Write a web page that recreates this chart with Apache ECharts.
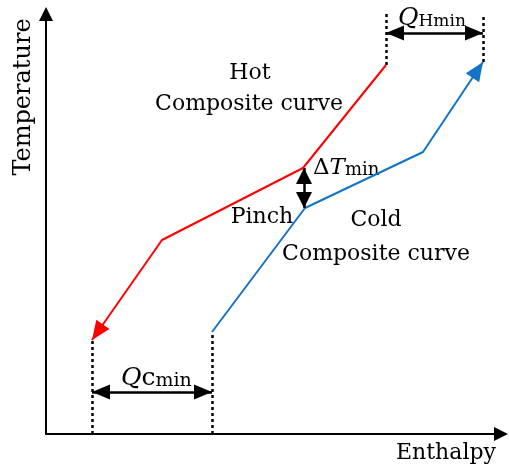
<!DOCTYPE html>
<html><head><meta charset="utf-8">
<script src="https://cdn.jsdelivr.net/npm/echarts@6/dist/echarts.min.js"></script>
<style>html,body{margin:0;padding:0;background:#fff}#c{width:509px;height:467px}</style>
</head><body><div id="c"></div>
<script>
// Hot composite curve: enthalpy / temperature points (hot end -> cold end)
const hotH = [340, 257, 116, 46];
const hotT = [369, 266, 194, 94];
// Cold composite curve: enthalpy / temperature points (cold end -> hot end)
const coldH = [166, 259, 377, 437];
const coldT = [102, 226, 282, 372];
// Guide levels
const qcArrowT = 42;     // temperature level of the Qc,min arrow
const qhArrowT = 401;    // temperature level of the QH,min arrow
const qhGuideTop = 420;  // top of the QH,min dotted guides
const pinchH = 258;      // enthalpy of the ΔTmin arrow
const axisMaxH = 455, axisMaxT = 420;

const FONT = '"DejaVu Serif", serif';
const red = '#ff0000', blue = '#1273c7', black = '#000';

function pts(xs, ys){ return xs.map((x,i)=>[x, ys[i]]); }
const hotPts = pts(hotH, hotT), coldPts = pts(coldH, coldT);

// arrow heads: [tipH, tipT, fromH, fromT]
const heads = [
  {value:[hotH[3], hotT[3], hotH[2], hotT[2]], color:red, len:19, hw:8},
  {value:[coldH[3], coldT[3], coldH[2], coldT[2]], color:blue, len:19, hw:8},
  {value:[hotH[3], qcArrowT, coldH[0], qcArrowT], color:black, len:18, hw:7.5},
  {value:[coldH[0], qcArrowT, hotH[3], qcArrowT], color:black, len:18, hw:7.5},
  {value:[hotH[0], qhArrowT, coldH[3], qhArrowT], color:black, len:18, hw:7.5},
  {value:[coldH[3], qhArrowT, hotH[0], qhArrowT], color:black, len:18, hw:7.5},
  {value:[pinchH, hotT[1], pinchH, coldT[1]], color:black, len:16, hw:8},
  {value:[pinchH, coldT[1], pinchH, hotT[1]], color:black, len:16, hw:8}
];

const chart = echarts.init(document.getElementById('c'), null, {renderer:'canvas'});
const option = {
  animation:false,
  backgroundColor:'#fff',
  grid:{left:46, right:8, top:14, bottom:33},
  xAxis:{type:'value', min:0, max:axisMaxH, axisTick:{show:false}, axisLabel:{show:false}, splitLine:{show:false},
    axisLine:{show:true, onZero:false, lineStyle:{color:black, width:2}, symbol:['none','triangle'], symbolSize:[14,14]}},
  yAxis:{type:'value', min:0, max:axisMaxT, axisTick:{show:false}, axisLabel:{show:false}, splitLine:{show:false},
    axisLine:{show:true, onZero:false, lineStyle:{color:black, width:2}, symbol:['none','triangle'], symbolSize:[14,14]}},
  series:[
    {type:'line', data:hotPts, symbol:'none', lineStyle:{color:red, width:2}, z:3},
    {type:'line', data:coldPts, symbol:'none', lineStyle:{color:blue, width:2}, z:3},
    {type:'lines', coordinateSystem:'cartesian2d', z:2, symbol:'none',
      lineStyle:{color:black, width:2.5, type:[3,3], opacity:1},
      data:[
        {coords:[[hotH[3],0],[hotH[3],hotT[3]]]},
        {coords:[[coldH[0],0],[coldH[0],coldT[0]]]},
        {coords:[[hotH[0],hotT[0]],[hotH[0],qhGuideTop]]},
        {coords:[[coldH[3],coldT[3]],[coldH[3],qhGuideTop]]}
      ]},
    {type:'lines', coordinateSystem:'cartesian2d', z:4, symbol:'none',
      lineStyle:{color:black, width:2.5, type:'solid', opacity:1},
      data:[
        {coords:[[hotH[3],qcArrowT],[coldH[0],qcArrowT]]},
        {coords:[[hotH[0],qhArrowT],[coldH[3],qhArrowT]]},
        {coords:[[pinchH,hotT[1]],[pinchH,coldT[1]]]}
      ]},
    {type:'custom', coordinateSystem:'cartesian2d', z:6, silent:true,
      data:heads.map(h=>({value:h.value, itemStyle:{color:h.color}})),
      renderItem:function(params, api){
        const tip = api.coord([api.value(0), api.value(1)]);
        const from = api.coord([api.value(2), api.value(3)]);
        const dx = tip[0]-from[0], dy = tip[1]-from[1], L = Math.hypot(dx, dy);
        const ux = dx/L, uy = dy/L, px = -uy, py = ux;
        const h = heads[params.dataIndex];
        const bx = tip[0]-ux*h.len, by = tip[1]-uy*h.len;
        return {type:'polygon', shape:{points:[tip, [bx+px*h.hw, by+py*h.hw], [bx-px*h.hw, by-py*h.hw]]},
          style:{fill:api.visual('color'), stroke:null}};
      }}
  ],
  graphic:[
    {type:'text', x:24, y:97, rotation:Math.PI/2, style:{text:'Temperature', font:'24px '+FONT, fill:black, align:'center', verticalAlign:'middle'}},
    {type:'text', x:446, y:453, style:{text:'Enthalpy', font:'22px '+FONT, fill:black, align:'center', verticalAlign:'middle'}},
    {type:'text', x:250, y:73, style:{text:'Hot', font:'22px '+FONT, fill:black, align:'center', verticalAlign:'middle'}},
    {type:'text', x:249, y:104, style:{text:'Composite curve', font:'22px '+FONT, fill:black, align:'center', verticalAlign:'middle'}},
    {type:'text', x:262, y:217, style:{text:'Pinch', font:'22px '+FONT, fill:black, align:'center', verticalAlign:'middle'}},
    {type:'text', x:376, y:220, style:{text:'Cold', font:'22px '+FONT, fill:black, align:'center', verticalAlign:'middle'}},
    {type:'text', x:376, y:254, style:{text:'Composite curve', font:'22px '+FONT, fill:black, align:'center', verticalAlign:'middle'}},
    {type:'text', x:313, y:168, style:{text:'{d|Δ}{t|T}{s|min}', fill:black, align:'left', verticalAlign:'middle',
      rich:{d:{font:'23px '+FONT, verticalAlign:'bottom'}, t:{font:'italic 23px '+FONT, verticalAlign:'bottom'}, s:{font:'18px '+FONT, verticalAlign:'bottom'}}}},
    {type:'text', x:398, y:18, style:{text:'{q|Q}{s|Hmin}', fill:black, align:'left', verticalAlign:'middle',
      rich:{q:{font:'italic 25px '+FONT, verticalAlign:'bottom'}, s:{font:'17px '+FONT, verticalAlign:'bottom'}}}},
    {type:'text', x:121, y:378, style:{text:'{q|Q}{c|c}{s|min}', fill:black, align:'left', verticalAlign:'middle',
      rich:{q:{font:'italic 25px '+FONT, verticalAlign:'bottom'}, c:{font:'25px '+FONT, verticalAlign:'bottom'}, s:{font:'19px '+FONT, verticalAlign:'bottom'}}}}
  ]
};
chart.setOption(option);
</script></body></html>
